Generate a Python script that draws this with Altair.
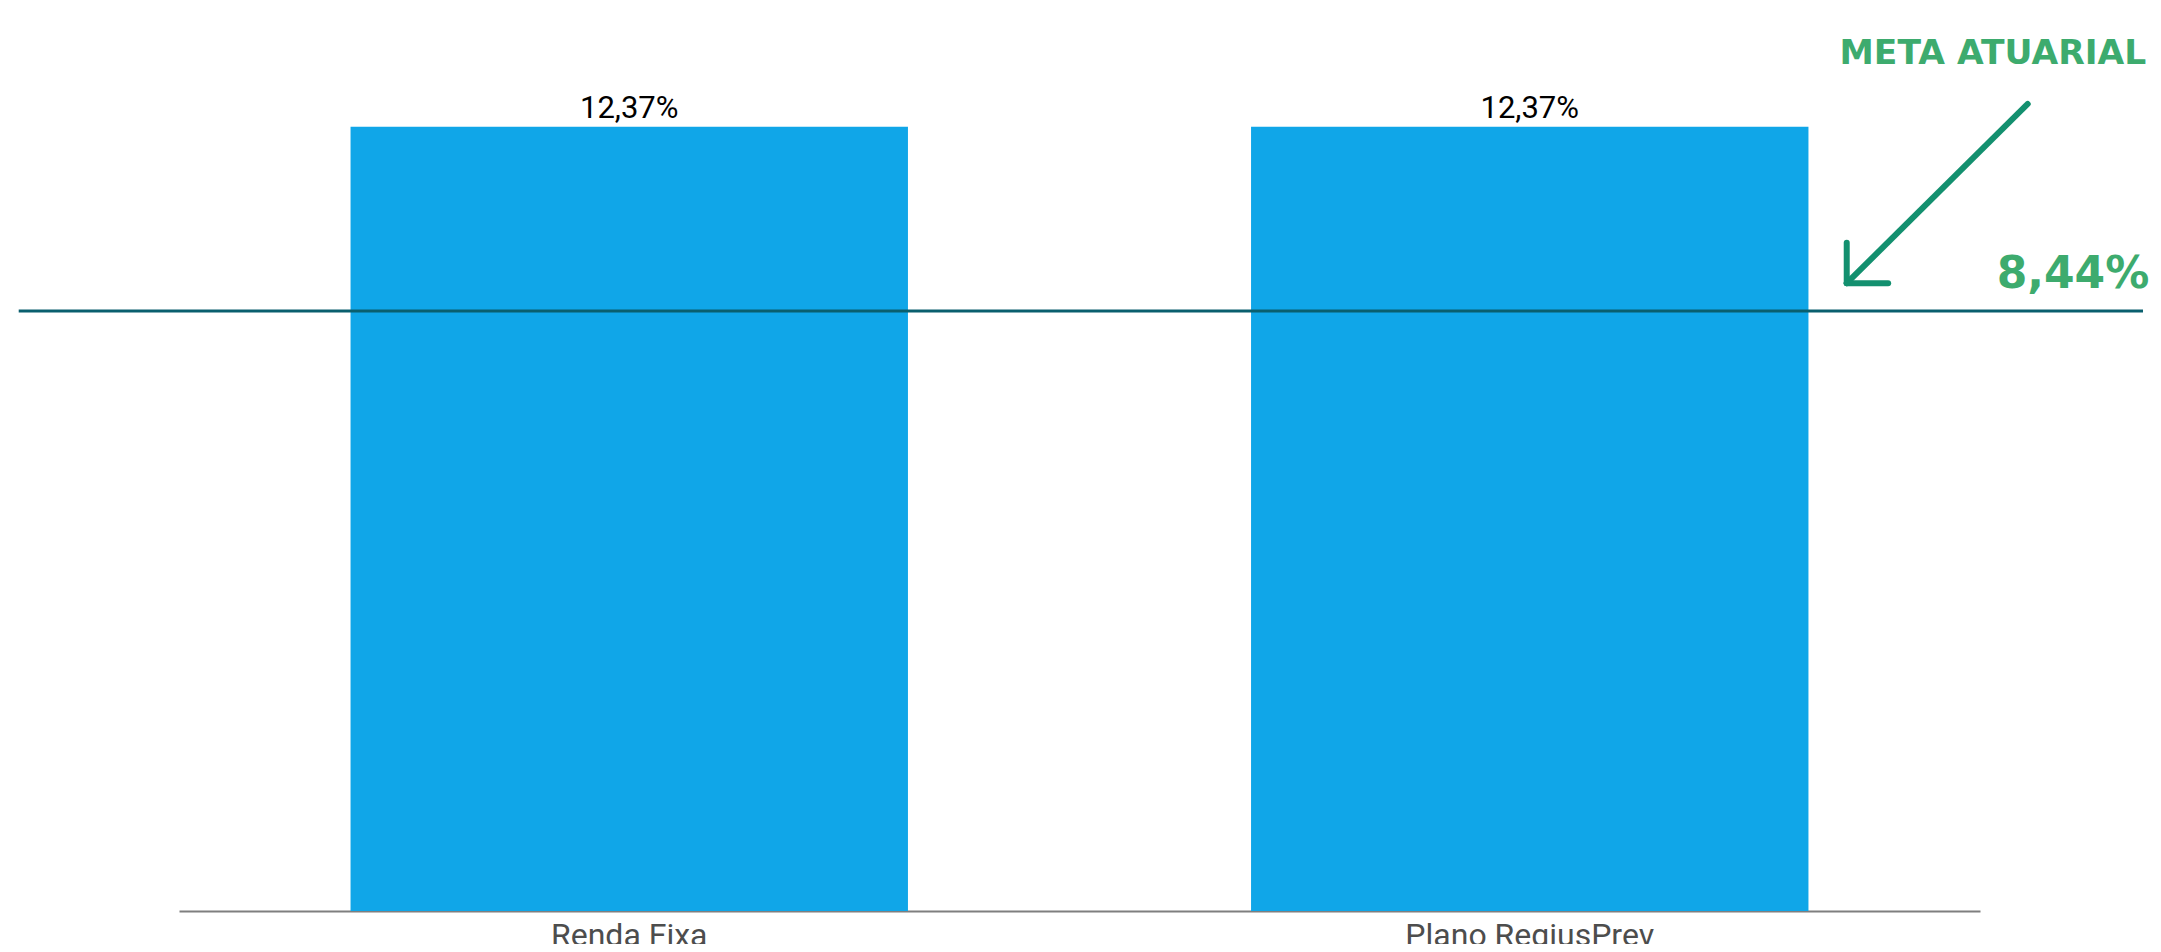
import altair as alt
import pandas as pd

# ---- data ----
categorias = ["Renda Fixa", "Plano RegiusPrev"]
rentabilidade = [12.37, 12.37]
meta_valor = 8.44
meta_titulo = "META ATUARIAL"

# annotation geometry, in the annotation layer's own units
# x: category-band units (0..2 spans the axis), y: 0..12.25 spans the plot height
meta_x_ini = [-0.178]
meta_x_fim = [2.181]
seta_x = [2.053, 1.852, 1.852]
seta_y = [11.35, 9.40, 8.83]
seta_x2 = [1.852, 1.852, 1.898]
seta_y2 = [8.83, 8.83, 8.83]
texto_meta_x = [2.188]
texto_meta_y = [8.76]
titulo_x = [1.844]
titulo_y = [11.91]


def pct(v):
    return f"{v:.2f}".replace(".", ",") + "%"


df = pd.DataFrame({"categoria": categorias, "valor": rentabilidade,
                   "rotulo": [pct(v) for v in rentabilidade]})
df_meta = pd.DataFrame({"x": meta_x_ini, "x2": meta_x_fim, "y": [meta_valor]})
df_seta = pd.DataFrame({"x": seta_x, "y": seta_y, "x2": seta_x2, "y2": seta_y2})
df_txt = pd.DataFrame({"x": texto_meta_x, "y": texto_meta_y, "t": [pct(meta_valor)]})
df_tit = pd.DataFrame({"x": titulo_x, "y": titulo_y, "t": [meta_titulo]})

W, H = 1801, 871
xband = alt.Scale(domain=categorias, paddingInner=0, paddingOuter=0)
ybar = alt.Scale(domain=[0, 13.74], nice=False, zero=True)
xa = alt.Scale(domain=[0, 2], nice=False, zero=False)
ya = alt.Scale(domain=[0, 12.25], nice=False, zero=False)

bars = alt.Chart(df).mark_bar(color="#10A6E8", width=alt.RelativeBandSize(0.619)).encode(
    x=alt.X("categoria:N", scale=xband, sort=categorias, title=None,
            axis=alt.Axis(labelAngle=0, labelFont="Roboto", labelFontSize=32,
                          labelColor="#4d4d4d", ticks=False, labelPadding=9,
                          labelLimit=0, domainColor="#7f7f7f", domainWidth=2,
                          grid=False)),
    y=alt.Y("valor:Q", scale=ybar, axis=None),
)

labels = alt.Chart(df).mark_text(font="Roboto", fontSize=31, color="#000000",
                                 baseline="alphabetic", dy=-9).encode(
    x=alt.X("categoria:N", scale=xband, sort=categorias, axis=None),
    y=alt.Y("valor:Q", scale=ybar, axis=None),
    text="rotulo:N",
)

meta_line = alt.Chart(df_meta).mark_rule(color="#0a5f6e", strokeWidth=3).encode(
    x=alt.X("x:Q", scale=xa, axis=None),
    x2="x2:Q",
    y=alt.Y("y:Q", scale=ya, axis=None),
)

seta = alt.Chart(df_seta).mark_rule(color="#13906f", strokeWidth=6, strokeCap="round").encode(
    x=alt.X("x:Q", scale=xa, axis=None),
    x2="x2:Q",
    y=alt.Y("y:Q", scale=ya, axis=None),
    y2="y2:Q",
)

txt = alt.Chart(df_txt).mark_text(font="DejaVu Sans", fontWeight="bold", fontSize=44,
                                  color="#3dab6e", align="right", baseline="alphabetic").encode(
    x=alt.X("x:Q", scale=xa, axis=None),
    y=alt.Y("y:Q", scale=ya, axis=None),
    text="t:N",
)

tit = alt.Chart(df_tit).mark_text(font="DejaVu Sans", fontWeight="bold", fontSize=34.5,
                                  color="#3dab6e", align="left", baseline="alphabetic").encode(
    x=alt.X("x:Q", scale=xa, axis=None),
    y=alt.Y("y:Q", scale=ya, axis=None),
    text="t:N",
)

chart = alt.layer(bars, labels, meta_line, seta, txt, tit).resolve_scale(
    x="independent", y="independent"
).properties(
    width=W, height=H,
    autosize=alt.AutoSizeParams(type="none"),
    padding={"left": 171, "top": 32, "right": 173, "bottom": 33},
    background="white",
).configure_view(stroke=None)

chart.save("out.html", embed_options={"renderer": "svg", "actions": False})
